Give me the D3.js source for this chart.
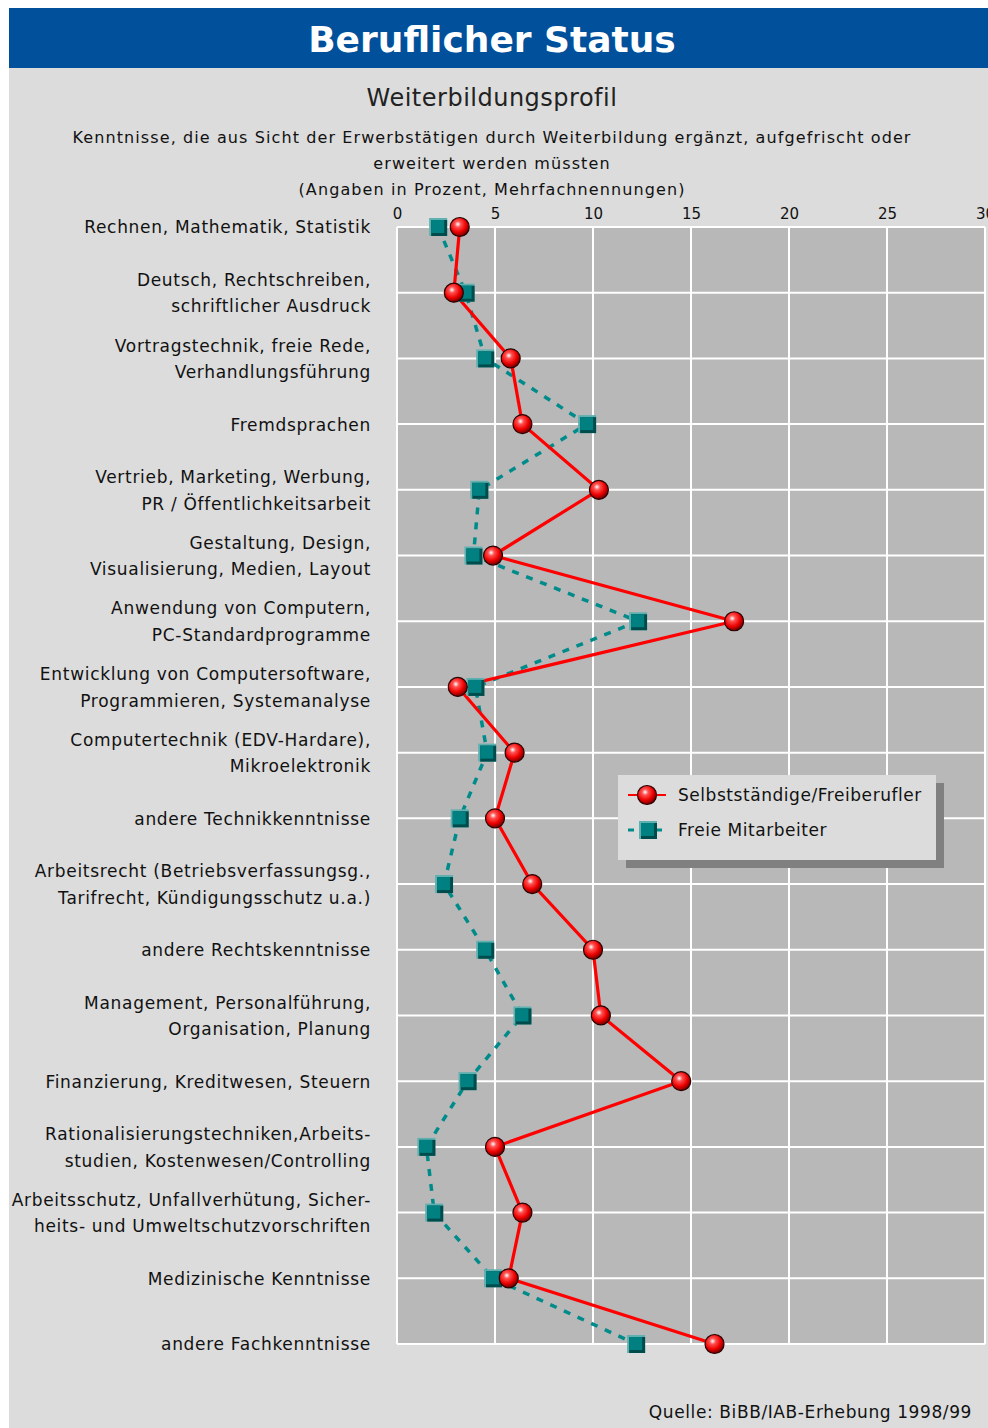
<!DOCTYPE html>
<html>
<head>
<meta charset="utf-8">
<script src="https://cdn.jsdelivr.net/npm/d3@7"></script>
<style>
  body { margin: 0; background: #fff; }
  svg { display: block; font-family: "DejaVu Sans", sans-serif; }
  .axis .domain { display: none; }
</style>
</head>
<body>
<svg width="988" height="1428"></svg>
<script>
var categories = [
  "Rechnen, Mathematik, Statistik",
  "Deutsch, Rechtschreiben,|schriftlicher Ausdruck",
  "Vortragstechnik, freie Rede,|Verhandlungsführung",
  "Fremdsprachen",
  "Vertrieb, Marketing, Werbung,|PR / Öffentlichkeitsarbeit",
  "Gestaltung, Design,|Visualisierung, Medien, Layout",
  "Anwendung von Computern,|PC-Standardprogramme",
  "Entwicklung von Computersoftware,|Programmieren, Systemanalyse",
  "Computertechnik (EDV-Hardare),|Mikroelektronik",
  "andere Technikkenntnisse",
  "Arbeitsrecht (Betriebsverfassungsg.,|Tarifrecht, Kündigungsschutz u.a.)",
  "andere Rechtskenntnisse",
  "Management, Personalführung,|Organisation, Planung",
  "Finanzierung, Kreditwesen, Steuern",
  "Rationalisierungstechniken,Arbeits-|studien, Kostenwesen/Controlling",
  "Arbeitsschutz, Unfallverhütung, Sicher-|heits- und Umweltschutzvorschriften",
  "Medizinische Kenntnisse",
  "andere Fachkenntnisse"
];

var selbststaendige = [3.2, 2.9, 5.8, 6.4, 10.3, 4.9, 17.2, 3.1, 6.0, 5.0, 6.9, 10.0, 10.4, 14.5, 5.0, 6.4, 5.7, 16.2];
var freieMitarbeiter = [2.1, 3.5, 4.5, 9.7, 4.2, 3.9, 12.3, 4.0, 4.6, 3.2, 2.4, 4.5, 6.4, 3.6, 1.5, 1.9, 4.9, 12.2];

var xTicks = [0, 5, 10, 15, 20, 25, 30];
var seriesNames = ["Selbstständige/Freiberufler", "Freie Mitarbeiter"];

var svg = d3.select("svg");
var margin = {top: 227, left: 397},
    width = 588,
    height = 1117;

// page background + header
svg.append("rect").attr("x", 9).attr("y", 8).attr("width", 979).attr("height", 1420).attr("fill", "#dcdcdc");
svg.append("rect").attr("x", 9).attr("y", 8).attr("width", 979).attr("height", 60).attr("fill", "#00509c");
svg.append("text").attr("x", 492).attr("y", 52).attr("text-anchor", "middle")
    .attr("fill", "#fff").attr("font-weight", "bold").attr("font-size", 36)
    .text("Beruflicher Status");

svg.append("text").attr("x", 492).attr("y", 106).attr("text-anchor", "middle")
    .attr("font-size", 24).attr("letter-spacing", 0.5).attr("fill", "#222").text("Weiterbildungsprofil");

var desc = ["Kenntnisse, die aus Sicht der Erwerbstätigen durch Weiterbildung ergänzt, aufgefrischt oder",
            "erweitert werden müssten",
            "(Angaben in Prozent, Mehrfachnennungen)"];
svg.selectAll(".desc").data(desc).enter().append("text")
    .attr("class", "desc")
    .attr("x", 492).attr("y", function(d, i) { return 143 + i * 26; })
    .attr("text-anchor", "middle").attr("font-size", 16).attr("letter-spacing", 1.1).attr("fill", "#111")
    .text(function(d) { return d; });

var defs = svg.append("defs");
var grad = defs.append("radialGradient").attr("id", "ball").attr("cx", "40%").attr("cy", "35%").attr("r", "65%");
grad.append("stop").attr("offset", "0%").attr("stop-color", "#ffffff");
grad.append("stop").attr("offset", "25%").attr("stop-color", "#ff5050");
grad.append("stop").attr("offset", "65%").attr("stop-color", "#ee0000");
grad.append("stop").attr("offset", "100%").attr("stop-color", "#700000");

var x = d3.scaleLinear().domain([0, 30]).range([0, width]);
var y = d3.scalePoint().domain(categories).range([0, height]);

var g = svg.append("g").attr("transform", "translate(" + margin.left + "," + margin.top + ")");

g.append("rect").attr("width", width).attr("height", height).attr("fill", "#b8b8b8");

// grid
g.selectAll(".vgrid").data(xTicks).enter().append("line")
    .attr("x1", function(d) { return x(d); }).attr("x2", function(d) { return x(d); })
    .attr("y1", 0).attr("y2", height)
    .attr("stroke", "#fff").attr("stroke-width", 2);
g.selectAll(".hgrid").data(categories).enter().append("line")
    .attr("x1", 0).attr("x2", width)
    .attr("y1", function(d) { return y(d); }).attr("y2", function(d) { return y(d); })
    .attr("stroke", "#fff").attr("stroke-width", 2);

// axes
g.append("g").attr("class", "axis")
    .call(d3.axisTop(x).tickValues(xTicks).tickSize(0).tickPadding(8))
    .selectAll("text").attr("font-size", 15).attr("font-family", "DejaVu Sans").attr("fill", "#111");

var yAxis = g.append("g").attr("class", "axis")
    .call(d3.axisLeft(y).tickSize(0).tickPadding(26));
yAxis.selectAll("text")
    .attr("font-size", 17).attr("letter-spacing", 0.7).attr("font-family", "DejaVu Sans").attr("fill", "#111")
    .each(function(d) {
      var t = d3.select(this), parts = d.split("|");
      t.text(null).attr("dy", null);
      parts.forEach(function(p, i) {
        t.append("tspan").attr("x", -26)
          .attr("dy", i === 0 ? ((0.35 - (parts.length - 1) * 0.78) + "em") : "1.56em")
          .text(p);
      });
    });

// lines
var line = d3.line().x(function(d) { return x(d[1]); }).y(function(d) { return y(d[0]); });
g.append("path").datum(categories.map(function(c, i) { return [c, freieMitarbeiter[i]]; }))
    .attr("d", line).attr("fill", "none").attr("stroke", "#008b8b")
    .attr("stroke-width", 3.5).attr("stroke-dasharray", "7,8");
g.append("path").datum(categories.map(function(c, i) { return [c, selbststaendige[i]]; }))
    .attr("d", line).attr("fill", "none").attr("stroke", "#ff0000").attr("stroke-width", 3.2);

function square(sel) {
  sel.append("rect").attr("x", -9).attr("y", -9).attr("width", 18).attr("height", 18).attr("fill", "#5fb0b0");
  sel.append("rect").attr("x", -7).attr("y", -7).attr("width", 16).attr("height", 16).attr("fill", "#004c4c");
  sel.append("rect").attr("x", -7).attr("y", -7).attr("width", 13).attr("height", 13).attr("fill", "#008080");
}
function ball(sel) {
  sel.append("circle").attr("r", 9.5).attr("fill", "url(#ball)").attr("stroke", "#2a0000").attr("stroke-width", 1.2);
}

g.selectAll(".sq").data(freieMitarbeiter).enter().append("g")
    .attr("transform", function(d, i) { return "translate(" + x(d) + "," + y(categories[i]) + ")"; })
    .call(square);
g.selectAll(".ball").data(selbststaendige).enter().append("g")
    .attr("transform", function(d, i) { return "translate(" + x(d) + "," + y(categories[i]) + ")"; })
    .call(ball);

// legend
var lg = svg.append("g").attr("transform", "translate(618,775)");
lg.append("rect").attr("x", 8).attr("y", 8).attr("width", 318).attr("height", 85).attr("fill", "#808080");
lg.append("rect").attr("width", 318).attr("height", 85).attr("fill", "#dcdcdc");
var li = lg.selectAll(".li").data(seriesNames).enter().append("g")
    .attr("transform", function(d, i) { return "translate(0," + (20 + i * 35) + ")"; });
li.append("line").attr("x1", 10).attr("x2", 48).attr("y1", 0).attr("y2", 0)
    .attr("stroke", function(d, i) { return i === 0 ? "#ff0000" : "#008b8b"; })
    .attr("stroke-width", function(d, i) { return i === 0 ? 2 : 3; })
    .attr("stroke-dasharray", function(d, i) { return i === 0 ? null : "6,22"; });
li.filter(function(d, i) { return i === 0; }).append("g").attr("transform", "translate(29,0)").call(ball);
li.filter(function(d, i) { return i === 1; }).append("g").attr("transform", "translate(30,0)").call(square);
li.append("text").attr("x", 60).attr("dy", "0.35em").attr("font-size", 17).attr("letter-spacing", 0.55).attr("fill", "#111")
    .text(function(d) { return d; });

svg.append("text").attr("x", 972).attr("y", 1418).attr("text-anchor", "end")
    .attr("font-size", 17).attr("letter-spacing", 0.6).attr("fill", "#111").text("Quelle: BiBB/IAB-Erhebung 1998/99");
</script>
</body>
</html>
